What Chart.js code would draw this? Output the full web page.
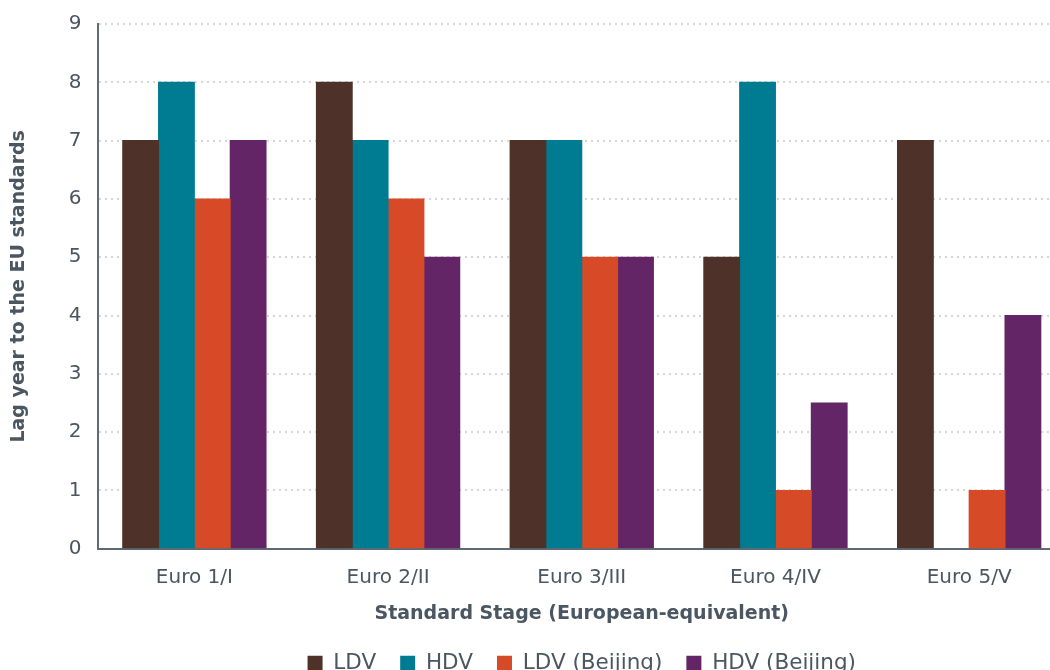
<!DOCTYPE html>
<html>
<head>
<meta charset="utf-8">
<script src="https://cdn.jsdelivr.net/npm/chart.js@4.4.1/dist/chart.umd.min.js"></script>
<style>
  html, body { margin: 0; padding: 0; background: #ffffff; overflow: hidden; }
  #wrap { width: 1066px; height: 684px; }
</style>
</head>
<body>
<div id="wrap"><canvas id="chart" width="1066" height="684"></canvas></div>
<script>
// Emission standard stages (European-equivalent)
const stages = ['Euro 1/I', 'Euro 2/II', 'Euro 3/III', 'Euro 4/IV', 'Euro 5/V'];

// Lag in years behind the EU introduction date
const ldv        = [7, 8, 7, 5, 7];
const hdv        = [8, 7, 7, 8, null];
const ldvBeijing = [6, 6, 5, 1, 1];
const hdvBeijing = [7, 5, 5, 2.5, 4];

const yTicks = [0, 1, 2, 3, 4, 5, 6, 7, 8, 9];

const textColor = '#4a5661';
const axisColor = '#5f6a74';
const fontFamily = '"DejaVu Sans", "Noto Sans", sans-serif';

new Chart(document.getElementById('chart'), {
  type: 'bar',
  data: {
    labels: stages,
    datasets: [
      { label: 'LDV',           data: ldv,        backgroundColor: '#4e3128' },
      { label: 'HDV',           data: hdv,        backgroundColor: '#007c92' },
      { label: 'LDV (Beijing)', data: ldvBeijing, backgroundColor: '#d64a28' },
      { label: 'HDV (Beijing)', data: hdvBeijing, backgroundColor: '#642566' }
    ]
  },
  options: {
    responsive: false,
    animation: false,
    datasets: { bar: { categoryPercentage: 0.74, barPercentage: 1.0, borderWidth: 0, inflateAmount: 0.5 } },
    layout: { padding: { top: 4, left: 8, right: 0, bottom: 0 } },
    plugins: {
      tooltip: { enabled: false },
      legend: {
        position: 'bottom',
        fullSize: false,
        labels: {
          color: textColor,
          font: { family: fontFamily, size: 21.5 },
          boxWidth: 15,
          boxHeight: 15,
          padding: 24
        }
      }
    },
    scales: {
      x: {
        grid: { display: false, drawTicks: false },
        border: { display: true, color: axisColor, width: 2 },
        ticks: {
          color: textColor,
          font: { family: fontFamily, size: 20 },
          padding: 17
        },
        title: {
          display: true,
          text: 'Standard Stage (European-equivalent)',
          color: textColor,
          font: { family: fontFamily, size: 19, weight: 'bold' },
          padding: { top: -4, bottom: 3 }
        }
      },
      y: {
        min: 0,
        max: 9,
        afterBuildTicks: (scale) => { scale.ticks = yTicks.map(v => ({ value: v })); },
        grid: { color: '#d6d6d6', lineWidth: 2, drawTicks: false },
        border: { display: true, color: axisColor, width: 2, dash: [2, 4] },
        ticks: {
          color: textColor,
          font: { family: fontFamily, size: 20, lineHeight: 0.8 },
          padding: 16
        },
        title: {
          display: true,
          text: 'Lag year to the EU standards',
          color: textColor,
          font: { family: fontFamily, size: 19, weight: 'bold' },
          padding: { top: 0, bottom: 22 }
        }
      }
    }
  }
});
</script>
</body>
</html>
